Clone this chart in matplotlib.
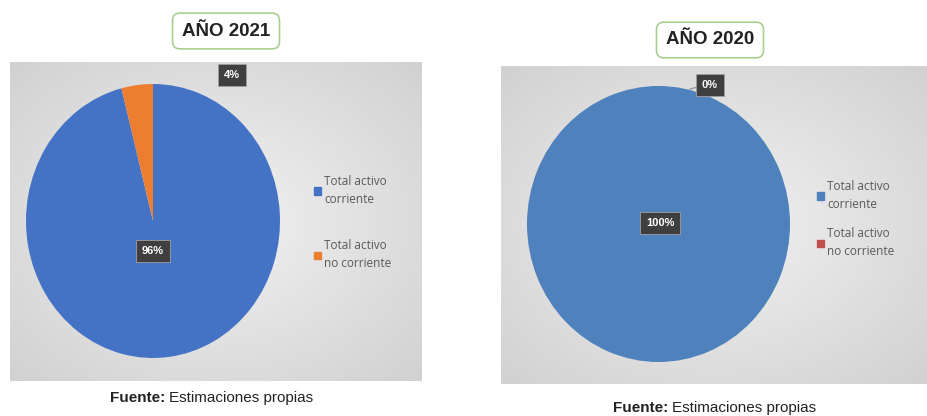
import numpy as np
import matplotlib.pyplot as plt
from matplotlib.patches import Patch

plt.rcParams['font.family'] = ['Liberation Sans', 'DejaVu Sans']

W, H = 927, 416

labels = ['Total activo\ncorriente', 'Total activo\nno corriente']
years = ['AÑO 2021', 'AÑO 2020']
vals_2021 = [96, 4]
vals_2020 = [100, 0]
colors_2021 = ['#4472C4', '#ED7D31']
colors_2020 = ['#4F81BD', '#C0504D']
source = 'Estimaciones propias'


def fbox(x0, y0, x1, y1):
    # pixel box (top-left origin) -> figure fraction rect
    return [x0 / W, 1 - y1 / H, (x1 - x0) / W, (y1 - y0) / H]


def panel_bg(rect):
    ax = fig.add_axes(rect)
    yy, xx = np.mgrid[-1:1:200j, -1:1:200j]
    r = np.sqrt(xx ** 2 + yy ** 2) / np.sqrt(2)
    g = 0.95 - 0.13 * r
    img = np.dstack([g, g, g])
    ax.imshow(img, extent=(0, 1, 0, 1), aspect='auto')
    ax.set_axis_off()


def draw_pie(rect, vals, colors):
    ax = fig.add_axes(rect)
    wedges, _ = ax.pie(vals, colors=colors, startangle=90, counterclock=False,
                       radius=1, wedgeprops=dict(linewidth=0))
    ax.set_aspect('auto')
    ax.set_xlim(-1, 1)
    ax.set_ylim(-1, 1)
    return ax, wedges


def pct_label(x, y, txt):
    fig.text(x / W, 1 - y / H, txt, ha='center', va='center', fontsize=8,
             color='white', fontweight='bold',
             bbox=dict(boxstyle='square,pad=0.5', fc='#3f3f3f', ec='#a0a0a0', lw=0.6))


def title_box(x, y, txt):
    fig.text(x / W, 1 - y / H, txt, ha='center', va='center', fontsize=13.5,
             fontweight='bold', color='#222222',
             bbox=dict(boxstyle='round,pad=0.5,rounding_size=0.4', fc='white',
                       ec='#a9cf8f', lw=1.2))


def legend(handles, x, y, spacing):
    leg = fig.legend(handles, labels, loc='upper left',
                     bbox_to_anchor=(x / W, 1 - y / H), frameon=False,
                     labelcolor='#595959', handlelength=0.6, handleheight=0.6,
                     handletextpad=0.3, labelspacing=spacing,
                     prop={'family': 'Open Sans', 'size': 8.5})
    for t in leg.get_texts():
        t.set_linespacing(1.5)
    return leg


fig = plt.figure(figsize=(W / 100, H / 100), dpi=100)
fig.patch.set_facecolor('white')

# left chart (2021)
panel_bg(fbox(10, 62, 422, 381))
ax1, w1 = draw_pie(fbox(26, 84, 280, 358), vals_2021, colors_2021)
title_box(226, 31, years[0])
pct_label(153, 251, f'{vals_2021[0]}%')
pct_label(232, 75, f'{vals_2021[1]}%')
legend([Patch(color=c) for c in colors_2021], 303, 164, 2.85)

# right chart (2020)
panel_bg(fbox(501, 66, 927, 384))
ax2, w2 = draw_pie(fbox(527, 86, 790, 362), vals_2020, colors_2020)
title_box(710, 40, years[1])
pct_label(660, 223, f'{vals_2020[0]}%')
pct_label(710, 85, f'{vals_2020[1]}%')
fig.lines.append(plt.Line2D([690 / W, 698 / W], [1 - 89 / H, 1 - 87 / H],
                            transform=fig.transFigure, color='#8c8c8c', lw=0.8))
legend([Patch(color=c) for c in colors_2020], 806, 169, 1.4)

# sources
for x, y in [(165, 398), (668, 408)]:
    fig.text(x / W, 1 - y / H, 'Fuente:', ha='right', va='center',
             fontsize=11, fontweight='bold', color='#222222')
    fig.text(x / W + 0.004, 1 - y / H, source, ha='left', va='center',
             fontsize=11, color='#222222')

fig.savefig('out.png', dpi=100)
